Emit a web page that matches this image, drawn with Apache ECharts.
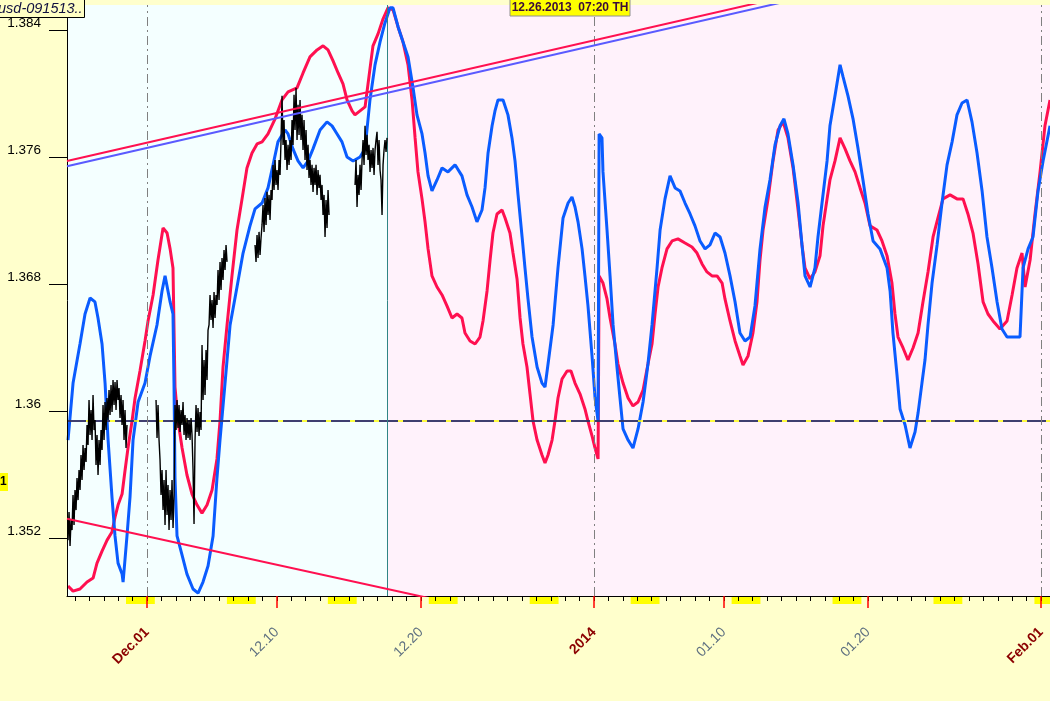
<!DOCTYPE html>
<html>
<head>
<meta charset="utf-8">
<script src="https://cdn.jsdelivr.net/npm/echarts@6/dist/echarts.min.js"></script>
<style>
html,body{margin:0;padding:0;background:#FFFFCC;}
#chart{width:1050px;height:701px;}
</style>
</head>
<body>
<div id="chart"></div>
<script>
// ---- DATA (x = days from Dec 01 2013, y = price) ----
const xMinDay = -5.55;
const xMaxDay = 62.62;
const yMin = 1.34835;
const yMax = 1.38557;

const xLabelDays = [0, 9, 19, 31, 40, 50, 62];
const xLabelTexts = ['Dec.01', '12.10', '12.20', '2014', '01.10', '01.20', 'Feb.01'];
const xLabelMajor = [true, false, false, true, false, false, true];
const xDailyTicks = [-5,-4,-3,-2,-1,0,1,2,3,4,5,6,7,8,9,10,11,12,13,14,15,16,17,18,19,20,21,22,23,24,25,26,27,28,29,30,31,32,33,34,35,36,37,38,39,40,41,42,43,44,45,46,47,48,49,50,51,52,53,54,55,56,57,58,59,60,61,62];
const weekendStarts = [-1.46, 5.54, 12.54, 19.54, 26.54, 33.54, 40.54, 47.54, 54.54, 61.54];
const weekendLength = 2;

const yTickValues = [1.352, 1.36, 1.368, 1.376, 1.384];

const historyEndDay = 16.64;      // end of price history (divider)
const cursorLevel = 1.35937;      // horizontal dashed level
const guideDays = [0, 31, 62];    // dash-dot verticals

const blueLine = [
[-5.48,1.35817],[-5.13,1.36176],[-4.65,1.36422],[-4.30,1.36611],[-3.95,1.36712],[-3.61,1.36687],[-3.40,1.36586],[-3.12,1.36422],[-2.91,1.36176],[-2.70,1.35817],[-2.43,1.35458],[-2.22,1.35213],[-2.01,1.35042],[-1.73,1.34973],[-1.66,1.34923],[-1.39,1.35213],[-1.18,1.35458],[-0.97,1.35817],[-0.62,1.36057],[-0.14,1.36176],[0.21,1.36347],[0.69,1.36542],[1.04,1.36756],[1.25,1.36851],[1.60,1.36687],[1.80,1.36611],[1.87,1.36176],[1.94,1.35578],[2.08,1.35213],[2.43,1.35093],[2.77,1.34973],[3.19,1.34879],[3.54,1.34853],[3.88,1.34923],[4.23,1.35024],[4.58,1.35213],[4.85,1.35578],[5.06,1.35817],[5.41,1.36176],[5.76,1.36542],[6.24,1.36781],[6.66,1.36995],[7.14,1.37166],[7.49,1.37273],[7.98,1.37310],[8.39,1.37405],[8.74,1.37550],[9.08,1.37695],[9.57,1.37770],[9.78,1.37745],[10.12,1.37651],[10.47,1.37575],[10.82,1.37531],[11.17,1.37575],[11.51,1.37651],[12.00,1.37770],[12.48,1.37821],[12.83,1.37796],[13.18,1.37745],[13.52,1.37695],[13.87,1.37600],[14.29,1.37575],[14.77,1.37600],[15.12,1.37651],[15.46,1.37959],[15.81,1.38180],[16.16,1.38325],[16.50,1.38444],[16.85,1.38539],[17.06,1.38539],[17.41,1.38419],[17.75,1.38325],[18.10,1.38230],[18.45,1.38035],[18.72,1.37865],[19.07,1.37745],[19.28,1.37625],[19.49,1.37481],[19.76,1.37386],[20.11,1.37455],[20.46,1.37531],[20.87,1.37506],[21.36,1.37550],[21.50,1.37531],[21.84,1.37481],[22.19,1.37361],[22.54,1.37285],[22.88,1.37191],[23.23,1.37266],[23.44,1.37405],[23.65,1.37625],[23.93,1.37796],[24.13,1.37890],[24.34,1.37959],[24.69,1.37959],[25.03,1.37865],[25.31,1.37720],[25.52,1.37575],[25.73,1.37361],[26.01,1.37096],[26.21,1.36901],[26.42,1.36706],[26.70,1.36466],[27.05,1.36277],[27.39,1.36176],[27.60,1.36151],[27.81,1.36296],[28.16,1.36542],[28.50,1.36901],[28.85,1.37216],[29.20,1.37310],[29.47,1.37348],[29.68,1.37285],[29.89,1.37191],[30.17,1.37021],[30.37,1.36851],[30.58,1.36662],[30.86,1.36347],[31.07,1.36082],[31.28,1.35937],[31.35,1.37745],[31.55,1.37720],[31.62,1.37506],[31.90,1.37140],[32.11,1.36851],[32.32,1.36542],[32.59,1.36277],[32.80,1.36082],[33.01,1.35887],[33.36,1.35817],[33.70,1.35767],[34.05,1.35887],[34.40,1.36057],[34.74,1.36296],[35.02,1.36542],[35.37,1.36901],[35.58,1.37140],[35.92,1.37336],[36.27,1.37481],[36.62,1.37405],[36.96,1.37386],[37.31,1.37310],[37.66,1.37241],[38.00,1.37166],[38.35,1.37071],[38.70,1.37021],[39.04,1.37046],[39.39,1.37121],[39.74,1.37096],[40.08,1.36995],[40.43,1.36851],[40.78,1.36687],[41.12,1.36491],[41.47,1.36441],[41.82,1.36466],[42.16,1.36662],[42.51,1.37021],[42.86,1.37285],[43.20,1.37455],[43.55,1.37676],[43.90,1.37796],[44.17,1.37840],[44.45,1.37745],[44.80,1.37550],[45.15,1.37310],[45.42,1.37046],[45.63,1.36851],[45.98,1.36781],[46.32,1.36901],[46.53,1.37096],[46.81,1.37310],[47.16,1.37575],[47.36,1.37796],[47.71,1.37985],[48.06,1.38180],[48.27,1.38104],[48.61,1.37985],[48.96,1.37840],[49.31,1.37651],[49.65,1.37455],[50.00,1.37241],[50.35,1.37071],[50.83,1.37021],[51.32,1.36901],[51.53,1.36756],[51.73,1.36491],[52.01,1.36227],[52.22,1.36013],[52.57,1.35912],[52.91,1.35767],[53.26,1.35868],[53.47,1.35987],[53.74,1.36176],[53.95,1.36321],[54.16,1.36542],[54.44,1.36806],[54.79,1.37046],[55.13,1.37310],[55.48,1.37550],[55.83,1.37695],[56.17,1.37865],[56.52,1.37940],[56.87,1.37959],[57.21,1.37821],[57.56,1.37625],[57.91,1.37386],[58.25,1.37096],[58.60,1.36901],[58.95,1.36687],[59.29,1.36517],[59.64,1.36466],[60.06,1.36466],[60.54,1.36466],[60.75,1.36901],[61.10,1.37021],[61.44,1.37096],[61.79,1.37386],[62.14,1.37575],[62.62,1.37796]
];

const redLine = [
[-5.48,1.34898],[-5.13,1.34866],[-4.65,1.34879],[-4.16,1.34923],[-3.74,1.34948],[-3.47,1.35042],[-3.12,1.35118],[-2.77,1.35187],[-2.43,1.35238],[-2.22,1.35332],[-2.01,1.35408],[-1.73,1.35477],[-1.53,1.35622],[-1.32,1.35767],[-1.04,1.35937],[-0.83,1.36082],[-0.49,1.36252],[-0.14,1.36441],[0.07,1.36567],[0.42,1.36731],[0.76,1.36951],[1.11,1.37153],[1.39,1.37121],[1.60,1.37021],[1.80,1.36901],[1.94,1.36151],[2.15,1.35937],[2.43,1.35767],[2.77,1.35597],[3.12,1.35477],[3.47,1.35408],[3.81,1.35357],[4.16,1.35408],[4.51,1.35502],[4.85,1.35698],[5.06,1.35937],[5.27,1.36277],[5.55,1.36542],[5.89,1.36851],[6.24,1.37140],[6.59,1.37336],[6.93,1.37531],[7.28,1.37625],[7.63,1.37682],[7.98,1.37695],[8.39,1.37745],[8.88,1.37840],[9.36,1.37959],[9.78,1.38010],[10.40,1.38035],[10.82,1.38129],[11.30,1.38230],[11.79,1.38274],[12.21,1.38300],[12.55,1.38274],[12.90,1.38205],[13.25,1.38129],[13.59,1.38060],[13.87,1.37959],[14.22,1.37890],[14.42,1.37865],[14.77,1.37890],[15.12,1.37915],[15.46,1.38155],[15.67,1.38300],[16.02,1.38375],[16.37,1.38470],[16.71,1.38539],[17.06,1.38526],[17.41,1.38419],[17.75,1.38325],[18.10,1.38180],[18.38,1.37959],[18.59,1.37720],[18.79,1.37506],[19.07,1.37336],[19.28,1.37191],[19.49,1.37021],[19.76,1.36851],[20.11,1.36781],[20.46,1.36731],[20.80,1.36662],[21.15,1.36586],[21.50,1.36611],[21.84,1.36586],[22.05,1.36491],[22.40,1.36441],[22.75,1.36422],[23.09,1.36466],[23.30,1.36567],[23.58,1.36756],[23.79,1.36951],[23.99,1.37121],[24.27,1.37241],[24.62,1.37266],[24.83,1.37216],[25.17,1.37121],[25.38,1.36995],[25.66,1.36832],[25.87,1.36586],[26.07,1.36422],[26.35,1.36277],[26.56,1.36107],[26.77,1.35937],[27.05,1.35817],[27.39,1.35723],[27.60,1.35672],[27.81,1.35723],[28.09,1.35817],[28.29,1.35937],[28.50,1.36082],[28.78,1.36202],[29.13,1.36252],[29.40,1.36252],[29.68,1.36176],[30.03,1.36107],[30.37,1.36013],[30.58,1.35937],[30.86,1.35843],[31.07,1.35767],[31.28,1.35698],[31.35,1.36851],[31.62,1.36806],[31.90,1.36706],[32.11,1.36586],[32.45,1.36422],[32.66,1.36296],[33.01,1.36176],[33.36,1.36082],[33.70,1.36032],[34.05,1.36057],[34.40,1.36132],[34.74,1.36296],[35.02,1.36422],[35.23,1.36611],[35.44,1.36781],[35.71,1.36901],[36.06,1.37021],[36.41,1.37071],[36.82,1.37084],[37.31,1.37058],[37.79,1.37033],[38.14,1.36995],[38.49,1.36926],[38.83,1.36876],[39.18,1.36851],[39.53,1.36851],[39.88,1.36806],[40.08,1.36706],[40.43,1.36567],[40.78,1.36441],[41.12,1.36347],[41.33,1.36290],[41.68,1.36347],[42.02,1.36491],[42.30,1.36687],[42.51,1.36951],[42.72,1.37140],[43.07,1.37336],[43.41,1.37575],[43.76,1.37770],[44.11,1.37821],[44.45,1.37720],[44.80,1.37531],[45.15,1.37266],[45.42,1.37046],[45.63,1.36901],[45.98,1.36832],[46.32,1.36876],[46.67,1.36977],[46.88,1.37166],[47.16,1.37336],[47.36,1.37455],[47.71,1.37575],[48.06,1.37720],[48.41,1.37651],[48.75,1.37575],[49.10,1.37506],[49.45,1.37405],[49.79,1.37310],[50.14,1.37166],[50.62,1.37140],[50.97,1.37071],[51.32,1.36977],[51.66,1.36806],[51.87,1.36611],[52.08,1.36466],[52.43,1.36397],[52.77,1.36321],[53.12,1.36397],[53.47,1.36491],[53.81,1.36687],[54.16,1.36876],[54.51,1.37096],[54.85,1.37216],[55.20,1.37336],[55.69,1.37361],[56.17,1.37336],[56.59,1.37336],[56.93,1.37241],[57.28,1.37121],[57.63,1.36926],[57.98,1.36687],[58.32,1.36611],[58.67,1.36567],[59.15,1.36517],[59.64,1.36567],[59.99,1.36731],[60.33,1.36901],[60.68,1.36995],[60.89,1.36781],[61.24,1.36951],[61.58,1.37241],[61.93,1.37506],[62.27,1.37796],[62.62,1.37959]
];

// price history, one sample every ~1.66 h; null = weekend (no trading)
const blackStartDay = -5.4785;
const blackStepDay = 0.06935;
const blackPrices = [
1.35187,1.35364,1.35150,1.35313,1.35250,1.35471,1.35282,1.35502,1.35376,1.35578,1.35439,1.35628,1.35502,1.35723,1.35565,1.35786,1.35628,1.35767,1.35679,1.35912,
1.35786,1.36069,1.35849,1.36006,1.35817,1.36101,1.35880,1.35943,1.35660,1.35849,1.35597,1.35817,1.35660,1.35880,1.35754,1.36038,1.35817,1.36057,1.35880,1.36082,
1.35943,1.36132,1.35975,1.36164,1.35994,1.36195,1.36038,1.36183,1.36006,1.36195,1.36069,1.36145,1.35956,1.36101,1.35912,1.36069,1.35817,1.36006,1.35767,1.35912,
null,null,null,null,null,null,null,null,null,null,null,null,null,null,null,null,null,null,null,null,null,null,null,null,null,null,null,null,
1.36069,1.35830,1.36038,1.35817,1.35691,1.35471,1.35628,1.35376,1.35565,1.35282,1.35628,1.35345,1.35534,1.35250,1.35502,1.35313,1.35565,1.35263,1.35471,1.36038,
1.35880,1.36069,1.35893,1.36038,1.35868,1.36006,1.35912,1.36057,1.35849,1.35975,1.35817,1.35956,1.35830,1.35943,1.35817,1.35956,1.35849,1.35628,1.35288,1.35817,
1.36038,1.35868,1.36019,1.35843,1.35994,1.35880,1.36416,1.36069,1.36321,1.36101,1.36384,1.36195,1.36510,1.36542,1.36731,1.36573,1.36699,1.36523,1.36750,1.36586,
1.36731,1.36668,1.36888,1.36699,1.36939,1.36762,1.36964,1.36825,1.37014,1.36888,1.37046,1.36939,
null,null,null,null,null,null,null,null,null,null,null,null,null,null,null,null,null,null,null,null,null,null,null,null,null,null,null,
1.37046,1.36939,1.37109,1.36964,1.37128,1.36983,1.37090,1.37172,1.37298,1.37128,1.37342,1.37172,1.37380,1.37235,1.37361,1.37203,1.37392,1.37329,1.37550,1.37392,
1.37581,1.37424,1.37518,1.37392,1.37581,1.37487,1.37707,1.37985,1.37676,1.37833,1.37581,1.37707,1.37518,1.37676,1.37550,1.37707,1.37581,1.37833,1.37676,1.37991,
1.37770,1.38035,1.37707,1.37928,1.37739,1.37959,1.37707,1.37865,1.37644,1.37833,1.37581,1.37770,1.37518,1.37676,1.37468,1.37581,1.37424,1.37550,1.37380,1.37531,
1.37424,1.37550,1.37361,1.37518,1.37405,1.37487,1.37329,1.37424,1.37235,1.37361,1.37096,1.37329,1.37153,1.37392,1.37235,
null,null,null,null,null,null,null,null,null,null,null,null,null,null,null,null,null,null,null,null,null,null,null,null,null,
1.37424,1.37581,1.37285,1.37487,1.37361,1.37550,1.37392,1.37581,1.37707,1.37550,1.37796,1.37613,1.37739,1.37581,1.37676,1.37506,1.37644,1.37531,1.37657,1.37487,
1.37644,1.37707,1.37758,1.37550,1.37707,1.37518,1.37455,1.37235,1.37550,1.37644,1.37707,1.37632,1.37720
];

const upperRedTrend = [[-5.55, 1.37574], [62.62, 1.38992]];
const upperBlueTrend = [[-5.55, 1.37542], [62.62, 1.38960]];
const lowerRedTrend = [[-5.55, 1.35321], [62.62, 1.33965]];

// ---- CHART ----
const blackData = blackPrices.map((v, i) => [blackStartDay + i * blackStepDay, v]);
const FONT = "'Liberation Sans', Arial, sans-serif";
const chart = echarts.init(document.getElementById('chart'), null, {renderer: 'canvas'});

const option = {
  backgroundColor: '#FFFFCC',
  animation: false,
  grid: {left: 67, right: 0, top: 5, bottom: 105, containLabel: false, outerBoundsMode: 'none',
         show: true, backgroundColor: '#FFF2FB', borderWidth: 0},
  xAxis: [{
    type: 'value', min: xMinDay, max: xMaxDay, position: 'bottom', z: 5,
    axisLine: {show: true, onZero: false, lineStyle: {color: '#000', width: 1}},
    axisTick: {show: true, length: 5, customValues: xDailyTicks, lineStyle: {color: '#000'}},
    axisLabel: {show: false},
    splitLine: {show: false}
  }, {
    type: 'value', min: xMinDay, max: xMaxDay, position: 'bottom', z: 6,
    axisLine: {show: false, onZero: false},
    axisTick: {show: true, length: 12, customValues: xLabelDays, lineStyle: {color: '#FF0000', width: 1.5}},
    axisLabel: {
      show: true, customValues: xLabelDays, rotate: 45, margin: 34,
      formatter: function (v) {
        const i = xLabelDays.indexOf(Math.round(v));
        if (i < 0) return '';
        return (xLabelMajor[i] ? '{m|' : '{n|') + xLabelTexts[i] + '}';
      },
      rich: {
        m: {fontFamily: FONT, fontSize: 14, fontWeight: 'bold', color: '#8B0000'},
        n: {fontFamily: FONT, fontSize: 14, color: '#5E7080'}
      }
    },
    splitLine: {show: false}
  }],
  yAxis: {
    type: 'value', min: yMin, max: yMax, z: 5,
    axisLine: {show: true, onZero: false, lineStyle: {color: '#000'}},
    axisTick: {show: true, length: 18, customValues: yTickValues, lineStyle: {color: '#000'}},
    axisLabel: {
      show: true, customValues: yTickValues, margin: 26, color: '#000',
      fontFamily: FONT, fontSize: 13.5, verticalAlign: 'bottom',
      formatter: v => String(+(+v).toFixed(3))
    },
    splitLine: {show: false}
  },
  series: [
    { // backgrounds and guides
      type: 'line', data: [], z: 1, silent: true,
      markArea: {
        silent: true,
        itemStyle: {color: '#F4FFFF'},
        data: [[{xAxis: xMinDay}, {xAxis: historyEndDay}]]
      },
      markLine: {
        silent: true, symbol: 'none', label: {show: false}, precision: 6,
        data: [
          {yAxis: cursorLevel, lineStyle: {color: '#FFFF00', width: 1.5, type: 'solid'}},
          {yAxis: cursorLevel, lineStyle: {color: '#000080', width: 1.5, type: [19, 5]}},
          {xAxis: historyEndDay, lineStyle: {color: '#2F8585', width: 1, type: 'solid'}}
        ].concat(guideDays.map(d => ({xAxis: d, lineStyle: {color: '#808080', width: 1, type: [9, 4, 2, 4]}})))
      }
    },
    {
      type: 'custom', z: 1, clip: false, silent: true,
      data: weekendStarts.map(s => [s, s + weekendLength]),
      renderItem: function (params, api) {
        const a = api.coord([api.value(0), yMin]);
        const b = api.coord([api.value(1), yMin]);
        return {type: 'rect', shape: {x: a[0], y: a[1] + 1, width: b[0] - a[0], height: 7},
                style: {fill: '#FFFF00'}};
      }
    },
    {type: 'line', data: redLine, z: 3, symbol: 'none', lineStyle: {color: '#FF1050', width: 3}},
    {type: 'line', data: blueLine, z: 4, symbol: 'none', lineStyle: {color: '#0A5CFF', width: 3}},
    {type: 'line', data: blackData, z: 5, symbol: 'none', connectNulls: false, lineStyle: {color: '#000', width: 1.4}},
    {type: 'line', data: upperRedTrend, z: 6, symbol: 'none', lineStyle: {color: '#FF1050', width: 2}},
    {type: 'line', data: upperBlueTrend, z: 6, symbol: 'none', lineStyle: {color: '#5A5AFF', width: 2}},
    {type: 'line', data: lowerRedTrend, z: 6, symbol: 'none', lineStyle: {color: '#FF1050', width: 2}}
  ],
  graphic: [
    {type: 'rect', left: -1, top: -1, shape: {width: 85, height: 18}, z: 100,
     style: {fill: '#FFFFC4', stroke: '#000', lineWidth: 1}},
    {type: 'text', x: -2, y: 9, z: 101,
     style: {text: 'usd-091513..', font: "italic 14.5px 'Liberation Sans', Arial", fill: '#101040', textVerticalAlign: 'middle'}},
    {type: 'rect', x: 510, y: -1, shape: {width: 120, height: 17}, z: 100,
     style: {fill: '#FFFF00', stroke: '#909090', lineWidth: 1}},
    {type: 'text', x: 570, y: 8, z: 101,
     style: {text: '12.26.2013  07:20 TH', font: "bold 12px 'Liberation Sans', Arial", fill: '#3A0A3A', textAlign: 'center', textVerticalAlign: 'middle'}},
    {type: 'rect', x: 0, y: 473, shape: {width: 8, height: 18}, z: 100, style: {fill: '#FFFF00'}},
    {type: 'text', x: 0, y: 482, z: 101,
     style: {text: '1', font: "bold 12px 'Liberation Sans', Arial", fill: '#000', textVerticalAlign: 'middle'}}
  ]
};
chart.setOption(option);
</script>
</body>
</html>
